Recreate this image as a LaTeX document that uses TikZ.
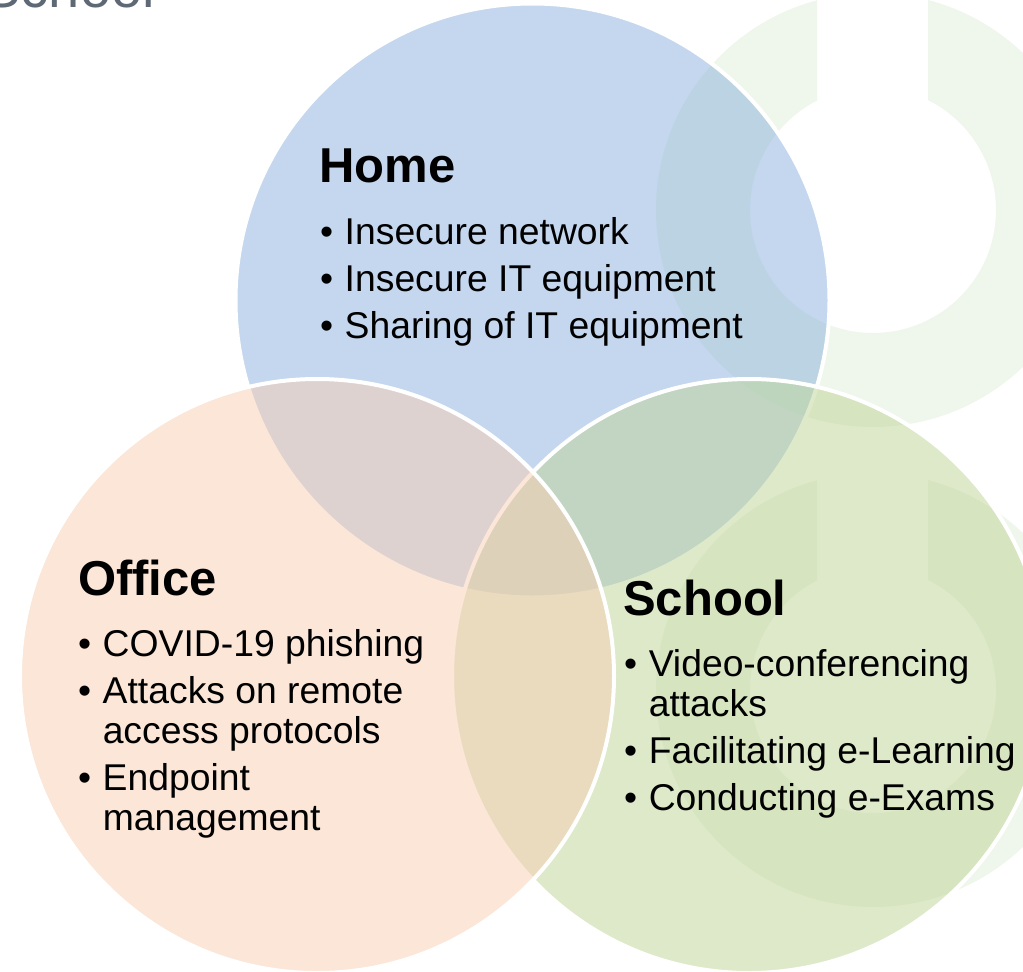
\documentclass[tikz,border=0pt]{standalone}
\usepackage{fontspec}
\setmainfont{Liberation Sans}
\definecolor{homeC}{RGB}{139,177,223}
\definecolor{officeC}{RGB}{249,207,179}
\definecolor{schoolC}{RGB}{191,213,151}
\definecolor{wmC}{RGB}{239,246,235}
\definecolor{titleC}{RGB}{95,105,118}
\tikzset{
  venn/.style={circle, draw=white, line width=4pt, fill opacity=0.5, minimum size=594pt, inner sep=0pt},
  head/.style={anchor=base west, inner sep=0pt, font=\bfseries\fontsize{49}{55}\selectfont},
  items/.style={anchor=base west, inner sep=0pt, font=\fontsize{37.3}{40}\selectfont},
}
\newcommand{\blist}[1]{\begin{tabular}[t]{@{}l@{\hspace{11.5pt}}l@{}}#1\end{tabular}}
\begin{document}
\begin{tikzpicture}[x=1pt,y=-1pt]
\useasboundingbox (0,0) rectangle (1023,972);
\fill[white] (0,0) rectangle (1023,972);
% watermark rings
\begin{scope}
  \clip (600,-20) -- (817,-20) -- (817,210) -- (928,210) -- (928,-20) -- (1100,-20) -- (1100,450) -- (600,450) -- cycle;
  \fill[wmC, even odd rule] (873,210) circle[radius=217] (873,210) circle[radius=123];
\end{scope}
\begin{scope}
  \clip (600,450) -- (817,450) -- (817,690) -- (928,690) -- (928,450) -- (1100,450) -- (1100,1000) -- (600,1000) -- cycle;
  \fill[wmC, even odd rule] (873,690) circle[radius=217] (873,690) circle[radius=123];
\end{scope}
% circles
\node[venn, fill=homeC] (home) at (532.5,300.5) {};
\node[venn, fill=schoolC] (school) at (749,676) {};
\node[venn, fill=officeC] (office) at (317,676) {};
% texts
\node[head] (homeT) at (319,182) {Home};
\node[items] (homeL) at (320,244) {\blist{•&Insecure network\\[7pt] •&Insecure IT equipment\\[7pt] •&Sharing of IT equipment}};
\node[head] (officeT) at (78,595) {Office};
\node[items] (officeL) at (78,656) {\blist{•&COVID-19 phishing\\[7pt] •&Attacks on remote\\ &access protocols\\[7pt] •&Endpoint\\ &management}};
\node[head] (schoolT) at (623,615) {School};
\node[items] (schoolL) at (624,676) {\blist{•&Video-conferencing\\ &attacks\\[7pt] •&Facilitating e-Learning\\[7pt] •&Conducting e-Exams}};
\node[anchor=base east, inner sep=0pt, text=titleC, font=\fontsize{56}{60}\selectfont] (title) at (155,7) {School};
\end{tikzpicture}
\end{document}
